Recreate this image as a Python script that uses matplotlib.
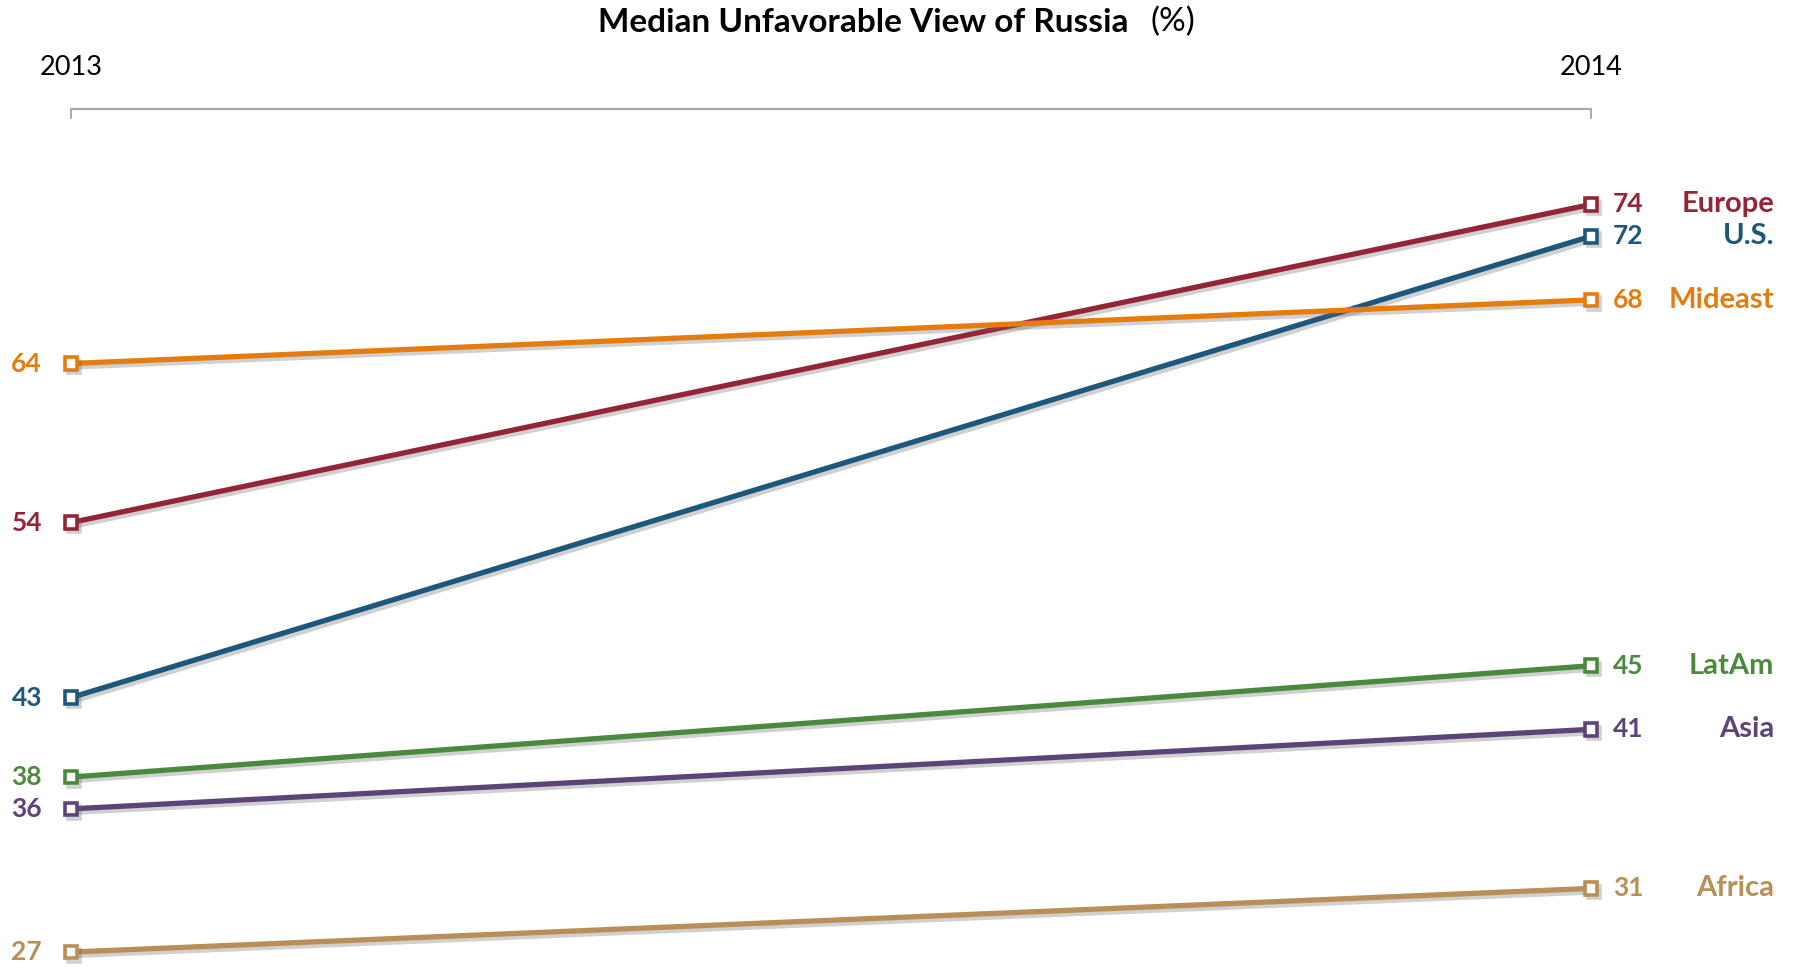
import matplotlib
matplotlib.use("Agg")
import matplotlib.pyplot as plt
import matplotlib.patheffects as pe

# === DATA ===
years = ["2013", "2014"]
regions = ["Europe", "U.S.", "Mideast", "LatAm", "Asia", "Africa"]
values_2013 = [54, 43, 64, 38, 36, 27]
values_2014 = [74, 72, 68, 45, 41, 31]
colors = ["#932536", "#1D587C", "#E47C10", "#4B8A3C", "#5D4478", "#B88F57"]

plt.rcParams["font.family"] = ["Lato", "DejaVu Sans"]

fig = plt.figure(figsize=(17.97, 9.67), dpi=100)
ax = fig.add_axes([71 / 1797, 0, (1591 - 71) / 1797, 1 - 109 / 967])

shadow = [pe.SimpleLineShadow(offset=(2, -2.5), shadow_color="#666666", alpha=0.3),
          pe.Normal()]

for name, v0, v1, col in zip(regions, values_2013, values_2014, colors):
    ax.plot([0, 1], [v0, v1], color=col, lw=3.8, marker="s", markersize=9,
            markerfacecolor="white", markeredgecolor=col, markeredgewidth=2.6,
            clip_on=False, path_effects=shadow, zorder=3)
    ax.annotate(str(v0), (0, v0), xytext=(-29, 0), textcoords="offset pixels",
                ha="right", va="center", color=col, fontsize=19, fontweight="bold")
    ax.annotate(str(v1), (1, v1), xytext=(22, 0), textcoords="offset pixels",
                ha="left", va="center", color=col, fontsize=19, fontweight="bold")
    ax.annotate(name, (1, v1), xytext=(1774 - 1591, 0), textcoords="offset pixels",
                ha="right", va="center", color=col, fontsize=21, fontweight="bold")

ax.set_xlim(0, 1)
ax.set_ylim(26.06, 80)

for s in ["left", "right", "bottom"]:
    ax.spines[s].set_visible(False)
ax.spines["top"].set_color("#AAAAAA")
ax.spines["top"].set_linewidth(1.6)

ax.set_yticks([])
ax.xaxis.tick_top()
ax.set_xticks([0, 1])
ax.set_xticklabels(years, fontsize=19.5)
ax.tick_params(axis="x", direction="in", length=7, width=1.4, color="#AAAAAA", pad=21)

fig.text(1129 / 1797, 1 - 22 / 967, "Median Unfavorable View of Russia", ha="right",
         va="center", fontsize=24, fontweight="bold")
fig.text(1150 / 1797, 1 - 22 / 967, "(%)", ha="left", va="center", fontsize=24)

fig.savefig("out.png", dpi=100)
